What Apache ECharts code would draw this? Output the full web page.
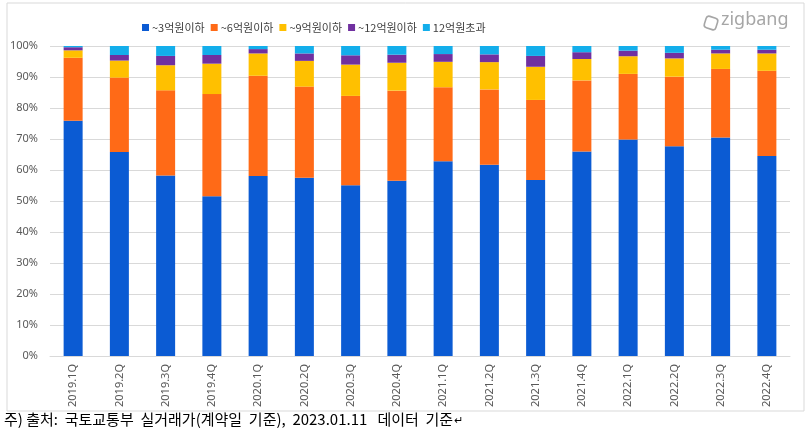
<!DOCTYPE html>
<html>
<head>
<meta charset="utf-8">
<script src="https://cdn.jsdelivr.net/npm/echarts@6/dist/echarts.min.js"></script>
<style>
html,body{margin:0;padding:0;background:#fff;}
#c{width:806px;height:434px;}
</style>
</head>
<body>
<div id="c"></div>
<script>
const categories = ['2019.1Q','2019.2Q','2019.3Q','2019.4Q','2020.1Q','2020.2Q','2020.3Q','2020.4Q','2021.1Q','2021.2Q','2021.3Q','2021.4Q','2022.1Q','2022.2Q','2022.3Q','2022.4Q'];
const seriesNames = ['~3억원이하','~6억원이하','~9억원이하','~12억원이하','12억원초과'];
const under3 = [75.9,65.8,58.2,51.5,58.1,57.5,55.1,56.5,62.8,61.7,56.8,66.0,69.8,67.7,70.5,64.5];
const under6 = [20.3,24.0,27.5,33.0,32.3,29.4,28.8,29.1,23.9,24.3,25.8,22.9,21.2,22.4,22.1,27.5];
const under9 = [2.4,5.5,8.1,9.8,7.2,8.3,10.1,9.0,8.2,8.8,10.7,6.9,5.7,5.9,5.0,5.6];
const under12 = [1.0,1.8,3.0,2.8,1.4,2.4,3.0,2.6,2.5,2.5,3.5,2.2,1.8,1.8,1.2,1.2];
const over12 = [0.4,2.9,3.2,2.9,1.0,2.4,3.0,2.8,2.6,2.7,3.2,2.0,1.5,2.2,1.2,1.2];
const yTicks = [0,10,20,30,40,50,60,70,80,90,100];
const footnote = '주) 출처:  국토교통부  실거래가(계약일  기준),  2023.01.11   데이터  기준';

const colors = ['#0B5BD3','#FF6A17','#FFC000','#7030A0','#13AEEB'];
const allData = [under3, under6, under9, under12, over12];
const font = '"Noto Sans CJK KR", "Noto Sans", sans-serif';

const chart = echarts.init(document.getElementById('c'), null, {renderer:'canvas'});
chart.setOption({
  animation:false,
  backgroundColor:'#fff',
  color: colors,
  textStyle:{fontFamily:font},
  legend:{
    top:17, left:137,
    icon:'rect', itemWidth:7, itemHeight:7, itemGap:6,
    textStyle:{fontSize:11, color:'#404040', fontFamily:font, padding:[0,0,0,-2]},
    data: seriesNames
  },
  grid:{left:50, right:16, top:46, bottom:78, containLabel:false},
  xAxis:{
    type:'category', data:categories,
    axisLine:{lineStyle:{color:'#d9d9d9'}},
    axisTick:{show:false},
    axisLabel:{rotate:90, fontSize:11, color:'#595959', margin:8, fontFamily:'"Noto Sans", sans-serif'}
  },
  yAxis:{
    type:'value', min:0, max:100, interval:10,
    axisLine:{show:false}, axisTick:{show:false},
    splitLine:{lineStyle:{color:'#d9d9d9'}},
    axisLabel:{formatter: v => yTicks.includes(v) ? v + '%' : '', fontSize:11, color:'#595959', margin:12, fontFamily:'"Noto Sans", sans-serif'}
  },
  series: seriesNames.map((n,i)=>({
    name:n, type:'bar', stack:'total', barWidth:19,
    data: allData[i],
    itemStyle:{color:colors[i]}
  })),
  graphic:[
    {type:'rect', shape:{x:7, y:3, width:797, height:408}, style:{fill:'none', stroke:'#d9d9d9', lineWidth:1}, silent:true, z:-1},
    {type:'rect', shape:{x:-6, y:-6, width:12, height:12, r:3}, x:711, y:23, rotation:-0.3, style:{fill:'none', stroke:'#a6a6a6', lineWidth:1.6}},
    {type:'text', left:721, top:11, style:{text:'zigbang', font:'18px "Noto Sans", sans-serif', fill:'#a6a6a6'}},
    {type:'text', left:4, top:412, style:{
      text:'{a|' + footnote + '}{b|↵}',
      rich:{
        a:{fontSize:15, fontFamily:'"Noto Sans CJK KR", sans-serif', fill:'#000', color:'#000'},
        b:{fontSize:11, fontFamily:'"DejaVu Sans", sans-serif', color:'#888', padding:[3,0,0,1]}
      }
    }}
  ]
});
</script>
</body>
</html>
